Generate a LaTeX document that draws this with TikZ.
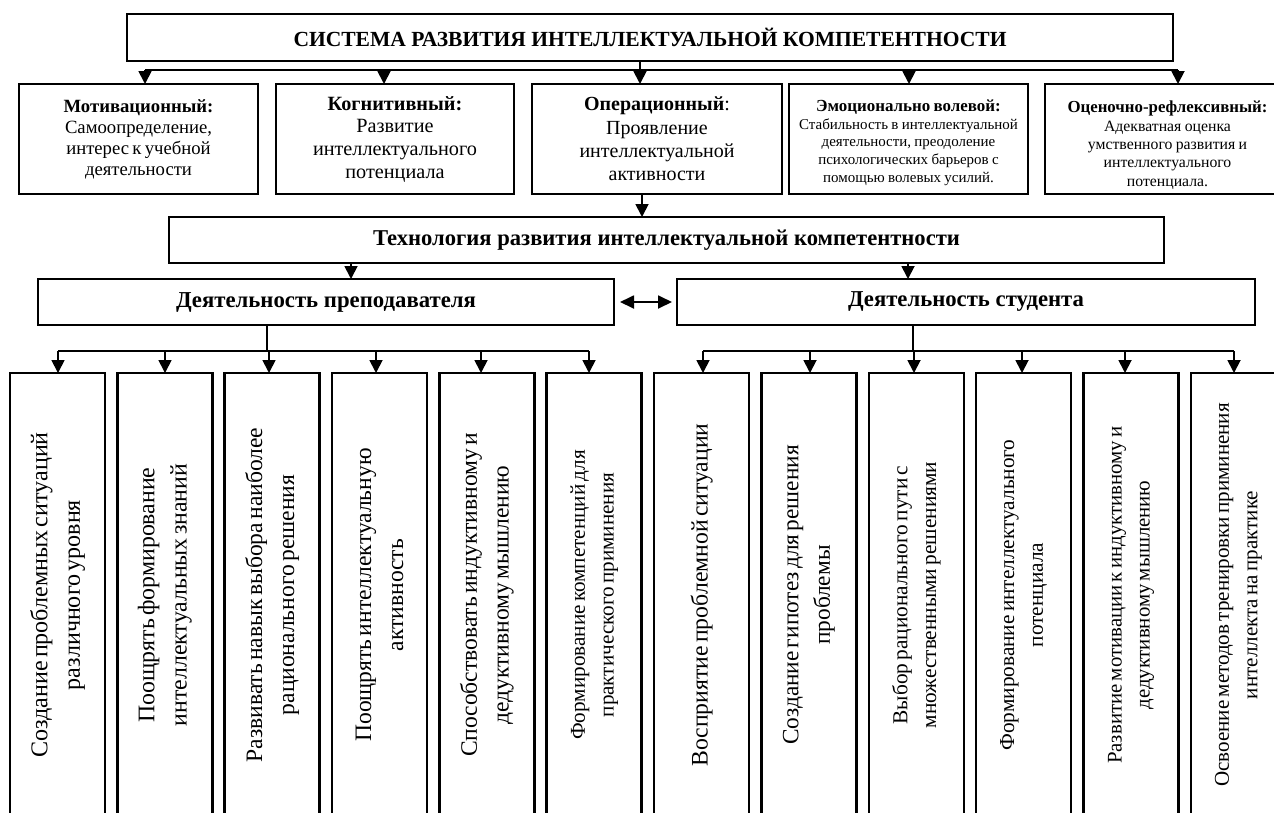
\documentclass[tikz,border=0pt]{standalone}
\usepackage{fontspec}
\setmainfont{Liberation Serif}
\usetikzlibrary{arrows.meta,calc}
\newlength\fitlen
\newcommand\fitfont[3]{%
  \settowidth\fitlen{\fontsize{10pt}{12pt}\selectfont #2}%
  \pgfmathsetmacro\fitfs{10*#1/\fitlen}%
  \pgfmathsetmacro\fitbs{\fitfs*#3}%
  \fontsize{\fitfs pt}{\fitbs pt}\selectfont}
\tikzset{
  box/.style={draw, line width=2.4pt, rectangle, inner sep=0pt, outer sep=0pt},
  rowbox/.style={box, minimum height=110pt, align=center},
  barbox/.style={box, minimum height=46pt},
  vbox/.style={box, line width=2.6pt, rotate=90, minimum width=444pt, minimum height=95pt, text width=430pt, align=center},
  conn/.style={line width=1.8pt},
  arr/.style={line width=1.8pt, -{Triangle[width=13pt,length=13pt]}},
  dbl/.style={line width=1.8pt, {Triangle[width=13pt,length=14pt]}-{Triangle[width=13pt,length=14pt]}},
}
\begin{document}
\begin{tikzpicture}[x=1pt,y=-1pt]
\useasboundingbox (0,0) rectangle (1274,812);
% title
\node[box, minimum width=1046pt, minimum height=47pt] (title) at (650,37.5)
  {\fitfont{713}{\bfseries СИСТЕМА РАЗВИТИЯ ИНТЕЛЛЕКТУАЛЬНОЙ КОМПЕТЕНТНОСТИ}{1.2}\bfseries СИСТЕМА РАЗВИТИЯ ИНТЕЛЛЕКТУАЛЬНОЙ КОМПЕТЕНТНОСТИ};
% row of components
\node[rowbox, minimum width=239pt, text width=229pt] (m1) at (138.5,139)
  {\fitfont{147}{Самоопределение,}{1.12}\textbf{Мотивационный:}\\Самоопределение,\\интерес к учебной\\деятельности\par};
\node[rowbox, minimum width=238pt, text width=228pt] (m2) at (395,139)
  {\fitfont{164}{интеллектуального}{1.12}\textbf{Когнитивный:}\\Развитие\\интеллектуального\\потенциала\par};
\node[rowbox, minimum width=250pt, text width=240pt] (m3) at (657,139)
  {\fitfont{155}{интеллектуальной}{1.17}\textbf{Операционный}:\\Проявление\\интеллектуальной\\активности\par};
\node[rowbox, minimum width=239pt, text width=233pt] (m4) at (908.5,139)
  {\fitfont{187}{\bfseries Эмоционально волевой:}{1.15}\rule{0pt}{19pt}\textbf{Эмоционально волевой:}\\\fitfont{222}{Стабильность в интеллектуальной}{1.18}Стабильность в интеллектуальной\\деятельности, преодоление\\психологических барьеров с\\помощью волевых усилий.\par};
\node[rowbox, minimum width=245pt, text width=235pt] (m5) at (1167.5,139)
  {\fitfont{200}{\bfseries Оценочно-рефлексивный:}{1.1}\rule{0pt}{24pt}\textbf{Оценочно-рефлексивный:}\\\fitfont{163}{умственного развития и}{1.17}Адекватная оценка\\умственного развития и\\интеллектуального\\потенциала.\par};
% connectors from title
\coordinate (tb) at (640,70);
\coordinate (bl) at (145,70);
\coordinate (br) at (1178,70);
\draw[conn] (title.south -| tb) -- (tb);
\draw[conn] (bl) -- (br);
\foreach \x/\n in {145/m1,384/m2,640/m3,909/m4,1178/m5}{
  \coordinate (a) at (\x,70);
  \draw[arr] (a) -- (a |- \n.north);
}
% technology
\node[barbox, minimum width=995pt] (tech) at (666.5,240)
  {\fitfont{587}{\bfseries Технология развития интеллектуальной компетентности}{1.2}\bfseries Технология развития интеллектуальной компетентности};
\coordinate (c3) at (642,195);
\draw[arr] (c3 |- m3.south) -- (c3 |- tech.north);
% teacher / student
\node[barbox, minimum width=576pt] (teach) at (326,302)
  {\fitfont{300}{\bfseries Деятельность преподавателя}{1.2}\bfseries Деятельность преподавателя};
\node[barbox, minimum width=578pt] (stud) at (966,302)
  {\fitfont{236}{\bfseries Деятельность студента}{1.2}\bfseries Деятельность студента};
\coordinate (t1) at (351,263);
\coordinate (t2) at (908,263);
\draw[arr] (t1 |- tech.south) -- (t1 |- teach.north);
\draw[arr] (t2 |- tech.south) -- (t2 |- stud.north);
\draw[dbl, shorten <=6pt, shorten >=5pt] (teach.east) -- (stud.west);
% bottom boxes
\node[vbox] (b1) at (57.5,595)
  {\fitfont{335}{Создание проблемных ситуаций}{1.35}Создание проблемных ситуаций\\различного уровня\par};
\node[vbox] (b2) at (164.85,595)
  {\fitfont{267}{интеллектуальных знаний}{1.35}Поощрять формирование\\интеллектуальных знаний\par};
\node[vbox] (b3) at (272.2,595)
  {\fitfont{348}{Развивать навык выбора наиболее}{1.35}Развивать навык выбора наиболее\\рационального решения\par};
\node[vbox] (b4) at (379.55,595)
  {\fitfont{298}{Поощрять интеллектуальную}{1.35}Поощрять интеллектуальную\\активность\par};
\node[vbox] (b5) at (486.9,595)
  {\fitfont{333}{Способствовать индуктивному и}{1.35}Способствовать индуктивному и\\дедуктивному мышлению\par};
\node[vbox] (b6) at (594.25,595)
  {\fitfont{297}{Формирование компетенций для}{1.35}Формирование компетенций для\\практического приминения\par};
\node[vbox] (b7) at (701.6,595)
  {\fitfont{352}{Восприятие проблемной ситуации}{1.35}Восприятие проблемной ситуации\par};
\node[vbox] (b8) at (808.95,595)
  {\fitfont{313}{Создание гипотез для решения}{1.35}Создание гипотез для решения\\проблемы\par};
\node[vbox] (b9) at (916.3,595)
  {\fitfont{270}{множественными решениями}{1.35}Выбор рационального пути с\\множественными решениями\par};
\node[vbox] (b10) at (1023.65,595)
  {\fitfont{315}{Формирование интеллектуального}{1.35}Формирование интеллектуального\\потенциала\par};
\node[vbox] (b11) at (1131,595)
  {\fitfont{352}{Развитие мотивации к индуктивному и}{1.35}Развитие мотивации к индуктивному и\\дедуктивному мышлению\par};
\node[vbox] (b12) at (1238.35,595)
  {\fitfont{395}{Освоение методов тренировки приминения}{1.35}Освоение методов тренировки приминения\\интеллекта на практике\par};
% teacher distribution
\coordinate (ts) at (267,351);
\coordinate (tl) at (58,351);
\coordinate (tr) at (589,351);
\draw[conn] (ts |- teach.south) -- (ts);
\draw[conn] (tl) -- (tr);
\foreach \x/\n in {58/b1,165/b2,269/b3,376/b4,481/b5,589/b6}{
  \coordinate (a) at (\x,351);
  \draw[arr] (a) -- (a |- \n.east);
}
% student distribution
\coordinate (ss) at (913,351);
\coordinate (sl) at (703,351);
\coordinate (sr) at (1234,351);
\draw[conn] (ss |- stud.south) -- (ss);
\draw[conn] (sl) -- (sr);
\foreach \x/\n in {703/b7,810/b8,914/b9,1022/b10,1125/b11,1234/b12}{
  \coordinate (a) at (\x,351);
  \draw[arr] (a) -- (a |- \n.east);
}
\end{tikzpicture}
\end{document}
